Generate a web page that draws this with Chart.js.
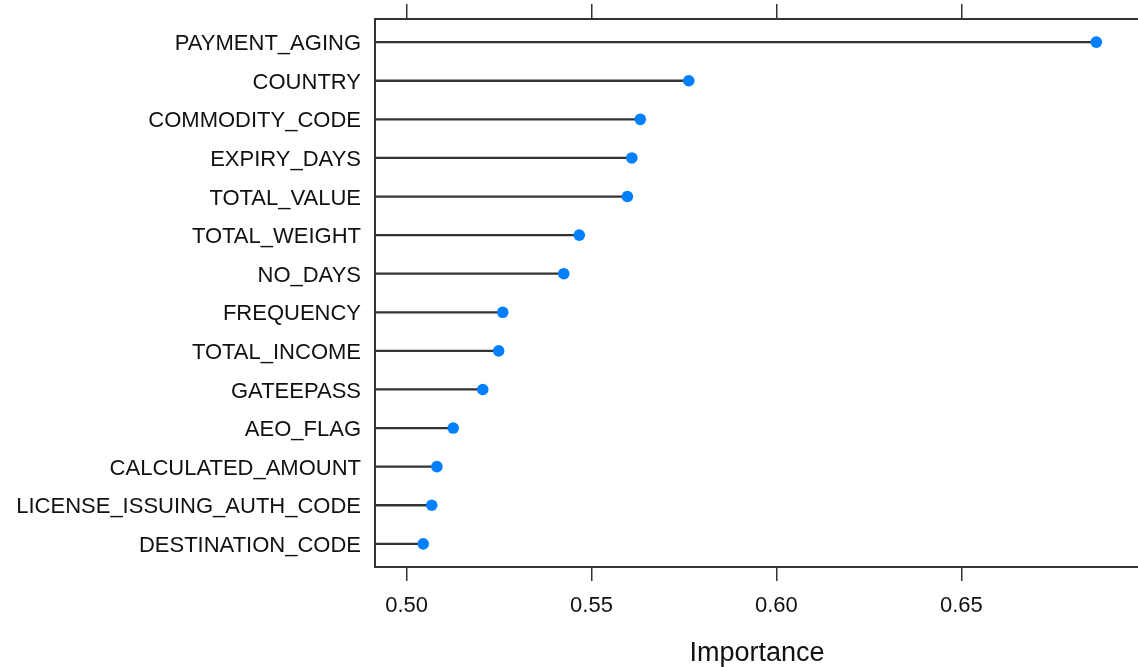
<!DOCTYPE html>
<html>
<head>
<meta charset="utf-8">
<title>Variable importance</title>
<script src="https://cdn.jsdelivr.net/npm/chart.js@4/dist/chart.umd.min.js"></script>
<style>
  html, body { margin: 0; padding: 0; background: #fff; overflow: hidden; }
  #wrap { width: 1145px; height: 667px; position: relative; }
</style>
</head>
<body>
<div id="wrap"><canvas id="chart"></canvas></div>
<script>
// Variables, top to bottom, and their importance scores
const categories = [
  'PAYMENT_AGING', 'COUNTRY', 'COMMODITY_CODE', 'EXPIRY_DAYS', 'TOTAL_VALUE',
  'TOTAL_WEIGHT', 'NO_DAYS', 'FREQUENCY', 'TOTAL_INCOME', 'GATEEPASS',
  'AEO_FLAG', 'CALCULATED_AMOUNT', 'LICENSE_ISSUING_AUTH_CODE', 'DESTINATION_CODE'
];
const importance = [
  0.6865, 0.5763, 0.5632, 0.5609, 0.5597,
  0.5467, 0.5425, 0.5260, 0.5249, 0.5206,
  0.5126, 0.5082, 0.5068, 0.5045
];
const xTicks = [0.50, 0.55, 0.60, 0.65];
const xRange = [0.49146, 0.6981];

const FONT = "'Liberation Sans', Arial, Helvetica, sans-serif";
const INK = '#111111';
const AXIS = '#333333';
const DOT = '#0080FF';

// Row positions 1..n on a padded linear axis
const rows = categories.map((_, i) => i + 1);

const stems = categories.map((_, i) => ({ y: rows[i], x: [xRange[0], importance[i]] }));
const dots = categories.map((_, i) => ({ y: rows[i], x: importance[i] }));

const fixedTicks = scale => { scale.ticks = xTicks.map(v => ({ value: v })); };

new Chart(document.getElementById('chart'), {
  data: {
    datasets: [
      {
        type: 'scatter',
        label: 'Importance',
        data: dots,
        xAxisID: 'x',
        yAxisID: 'y',
        pointRadius: 5.8,
        pointHoverRadius: 5.8,
        pointBackgroundColor: DOT,
        pointBorderWidth: 0,
        order: 0
      },
      {
        type: 'bar',
        label: 'stem',
        indexAxis: 'y',
        data: stems,
        xAxisID: 'x',
        yAxisID: 'y',
        backgroundColor: AXIS,
        borderWidth: 0,
        borderSkipped: false,
        barThickness: 1.6,
        order: 1
      }
    ]
  },
  options: {
    responsive: true,
    maintainAspectRatio: false,
    animation: false,
    events: [],
    layout: { padding: { left: 0, right: 3, top: 0, bottom: 0 } },
    plugins: {
      legend: { display: false },
      tooltip: { enabled: false }
    },
    scales: {
      x: {
        type: 'linear',
        position: 'bottom',
        offset: false,
        min: xRange[0],
        max: xRange[1],
        afterBuildTicks: fixedTicks,
        afterFit: s => { s.height = 100; s.paddingLeft = 0; s.paddingRight = 0; },
        grid: {
          display: true,
          offset: false,
          drawOnChartArea: false,
          drawTicks: true,
          tickLength: 14,
          color: AXIS,
          lineWidth: 1.5
        },
        border: { display: true, color: AXIS, width: 2 },
        ticks: {
          color: INK,
          padding: 12,
          maxRotation: 0,
          font: { family: FONT, size: 22 },
          callback: v => v.toFixed(2)
        },
        title: {
          display: true,
          text: 'Importance',
          color: INK,
          font: { family: FONT, size: 27 },
          padding: { top: 0, bottom: -3 }
        }
      },
      xTop: {
        type: 'linear',
        position: 'top',
        offset: false,
        min: xRange[0],
        max: xRange[1],
        afterBuildTicks: fixedTicks,
        afterFit: s => { s.height = 19; s.paddingLeft = 0; s.paddingRight = 0; },
        grid: {
          display: true,
          offset: false,
          drawOnChartArea: false,
          drawTicks: true,
          tickLength: 15,
          color: AXIS,
          lineWidth: 1.5
        },
        border: { display: true, color: AXIS, width: 2 },
        ticks: { display: false }
      },
      y: {
        type: 'linear',
        reverse: true,
        offset: false,
        min: 0.4,
        max: 14.6,
        afterBuildTicks: s => { s.ticks = rows.map(v => ({ value: v })); },
        afterFit: s => { s.width = 375; s.paddingTop = 0; s.paddingBottom = 0; },
        grid: { display: false, drawTicks: false, offset: false },
        border: { display: true, color: AXIS, width: 2 },
        ticks: {
          color: INK,
          padding: 14,
          labelOffset: 2,
          autoSkip: false,
          font: { family: FONT, size: 22 },
          callback: v => categories[Math.round(v) - 1] || ''
        }
      }
    }
  }
});
</script>
</body>
</html>
